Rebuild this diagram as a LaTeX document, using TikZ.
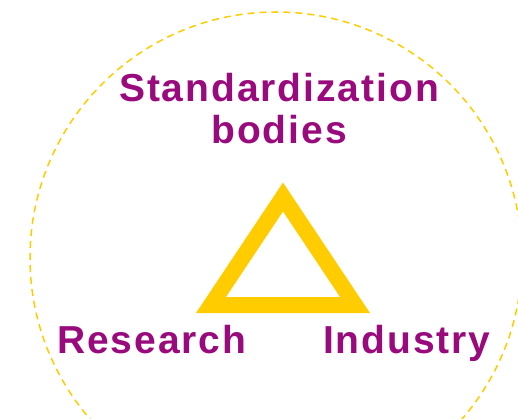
\documentclass[tikz,border=0pt]{standalone}
\usepackage{fontspec}
\setmainfont{Liberation Sans}
\newfontfamily\labelfont[LetterSpace=5]{Liberation Sans}
\usepackage{xcolor}
\usetikzlibrary{positioning}

\definecolor{gold}{RGB}{255,204,0}
\definecolor{plum}{RGB}{153,10,125}

\tikzset{
  party/.style={text=plum, inner sep=0pt, anchor=base, font=\labelfont\bfseries\fontsize{39}{44}\selectfont},
}

\begin{document}
\begin{tikzpicture}[x=1pt, y=-1pt]
\useasboundingbox (0,0) rectangle (518,419);

\draw [gold, line width=1.5pt, dash pattern=on 7pt off 5pt] (276,258) circle (246pt);

\node (standardization) [party] at (279,102) {Standardization};
\node (bodies) [party] at (279,144) {bodies};
\node (research) [party, anchor=base west] at (57,353) {Research};
\node (industry) [party, anchor=base west] at (323,353) {Industry};

% the triangle between the three parties
\coordinate (top) at (283,197);
\coordinate (left) at (211,305);
\coordinate (right) at (355,305);
\draw [gold, line width=16pt, miter limit=10] (top) -- (right) -- (left) -- cycle;

\end{tikzpicture}
\end{document}
